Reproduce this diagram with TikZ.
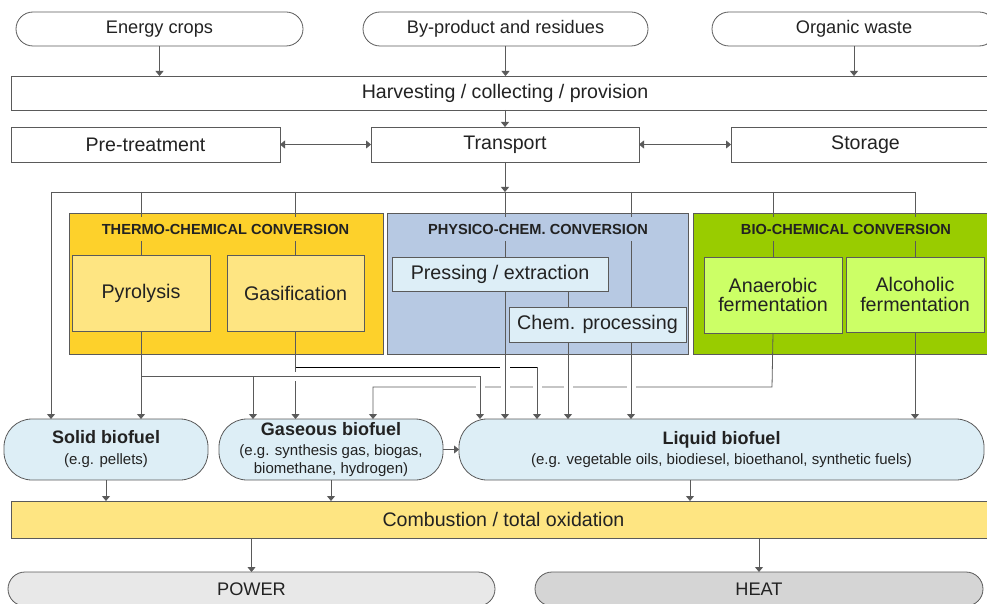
\documentclass[tikz,border=0pt]{standalone}
\usepackage{fontspec}
\setmainfont{Liberation Sans}
\usetikzlibrary{arrows.meta,calc}
\definecolor{lncol}{HTML}{5A5A5A}
\definecolor{txt}{HTML}{222222}
\definecolor{thermoc}{HTML}{FDD12B}
\definecolor{physc}{HTML}{B7C9E3}
\definecolor{bioc}{HTML}{99CC00}
\definecolor{innery}{HTML}{FEE582}
\definecolor{innerb}{HTML}{DDEEF7}
\definecolor{innerg}{HTML}{CCFF66}
\definecolor{fuelc}{HTML}{DDEEF6}
\definecolor{combc}{HTML}{FEE582}
\definecolor{powc}{HTML}{E8E8E8}
\definecolor{heatc}{HTML}{D5D5D5}
\begin{document}
\begin{tikzpicture}[x=1pt,y=-1pt,
  box/.style={draw=lncol, line width=0.8pt, inner sep=0pt, outer sep=0pt, text=txt, align=center},
  conn/.style={draw=lncol, line width=0.8pt},
  arr/.style={conn, -{Triangle[length=5pt,width=8pt]}},
  darr/.style={conn, {Triangle[length=5pt,width=8pt]}-{Triangle[length=5pt,width=8pt]}},
  ftop/.style={font=\fontsize{18.2}{21}\selectfont},
  fmid/.style={font=\fontsize{19.6}{21}\selectfont},
  finner/.style={font=\fontsize{19.7}{19.5}\selectfont},
  ffuel/.style={font=\fontsize{15}{18}\selectfont},
  ftitle/.style={font=\fontsize{14.6}{16}\selectfont\bfseries, text=txt, inner xsep=3pt, inner ysep=7pt},
  ]
\useasboundingbox (0,0) rectangle (987,604);
\clip (0,0) rectangle (987,604);
% routing coordinates
\coordinate (dl) at (51,192);
\coordinate (dr) at (915,192);
\coordinate (py1) at (141,376);
\coordinate (g367) at (295.5,367);
\coordinate (h387) at (772,387);
\coordinate (q253) at (253,0);
\coordinate (q373) at (373,0);
\coordinate (q480) at (480,0);
\coordinate (q537) at (537,0);
\coordinate (c568) at (568,0);
\coordinate (c631) at (631,0);
\coordinate (q690) at (690,0);
% top row
\node[box, ftop, minimum width=287, minimum height=34, rounded corners=17] (ec) at (159.5,29) {Energy crops};
\node[box, ftop, minimum width=285, minimum height=34, rounded corners=17] (bp) at (505.5,29) {By-product and residues};
\node[box, ftop, minimum width=284, minimum height=34, rounded corners=17] (ow) at (854,29) {Organic waste};
\node[box, fmid, minimum width=988, minimum height=34] (harv) at (505,93) {Harvesting / collecting / provision};
\node[box, fmid, minimum width=269, minimum height=35] (pre) at (145.5,144.5) {Pre-treatment};
\node[box, fmid, minimum width=268, minimum height=35] (trans) at (505,144.5) {Transport};
\node[box, fmid, minimum width=269, minimum height=35] (stor) at (865.5,144.5) {Storage};
% conversion groups
\node[box, fill=thermoc, minimum width=314, minimum height=141] (thermo) at (226,283.5) {};
\node[box, fill=physc, minimum width=301, minimum height=141] (phys) at (537.5,283.5) {};
\node[box, fill=bioc, minimum width=306, minimum height=141] (bio) at (846,283.5) {};
\node[box, finner, fill=innery, minimum width=138, minimum height=76] (pyro) at (141,293) {Pyrolysis};
\node[box, finner, fill=innery, minimum width=137, minimum height=76] (gasi) at (295.5,293) {Gasification};
\node[box, finner, fill=innerb, minimum width=216, minimum height=34] (press) at (500,274) {Pressing / extraction};
\node[box, finner, fill=innerb, minimum width=177, minimum height=35] (chem) at (597.5,324.5) {Chem. processing};
\node[box, finner, fill=innerg, minimum width=138, minimum height=76] (anae) at (773,295) {Anaerobic\\fermentation};
\node[box, finner, fill=innerg, minimum width=138, minimum height=75] (alco) at (915,294.5) {Alcoholic\\fermentation};
% fuels
\node[box, ffuel, fill=fuelc, minimum width=204, minimum height=61, rounded corners=28] (solid) at (106,449.5)
  {{\fontsize{18}{18}\selectfont\bfseries Solid biofuel}\\[3pt](e.g. pellets)};
\node[box, ffuel, fill=fuelc, minimum width=224, minimum height=61, rounded corners=28] (gas) at (331,449.5)
  {{\fontsize{18}{18}\selectfont\bfseries Gaseous biofuel}\\[2pt](e.g. synthesis gas, biogas,\\biomethane, hydrogen)};
\node[box, ffuel, fill=fuelc, minimum width=525, minimum height=61, rounded corners=28] (liq) at (721.5,449.5)
  {{\fontsize{18}{18}\selectfont\bfseries Liquid biofuel}\\[2pt](e.g. vegetable oils, biodiesel, bioethanol, synthetic fuels)};
\node[box, fmid, fill=combc, minimum width=985, minimum height=37] (comb) at (503.5,519.5) {Combustion / total oxidation};
\node[box, ftop, fill=powc, minimum width=487, minimum height=34, rounded corners=17] (pow) at (251.5,589) {POWER};
\node[box, ftop, fill=heatc, minimum width=448, minimum height=34, rounded corners=17] (heat) at (759,589) {HEAT};
% top connectors
\draw[arr] (ec.south) -- (ec.south |- harv.north);
\draw[arr] (bp.south) -- (bp.south |- harv.north);
\draw[arr] (ow.south) -- (ow.south |- harv.north);
\draw[arr] (harv.south -| trans.north) -- (trans.north);
\draw[darr] (pre.east) -- (trans.west);
\draw[darr] (trans.east) -- (stor.west);
\draw[arr] (trans.south) -- (trans.south |- dl);
% distribution
\draw[conn] (dl) -- (dr);
\draw[arr] (dl) -- (dl |- solid.north);
\draw[conn] (pyro.north |- dl) -- (pyro.north);
\draw[conn] (gasi.north |- dl) -- (gasi.north);
\draw[conn] (trans.south |- dl) -- (trans.south |- press.north);
\draw[conn] (c631 |- dl) -- (c631 |- chem.north);
\draw[conn] (anae.north |- dl) -- (anae.north);
\draw[conn] (dr) -- (alco.north);
\draw[conn] (c568 |- press.south) -- (c568 |- chem.north);
% outputs
\draw[arr] (gasi.south) -- (gasi.south |- gas.north);
\draw[arr] (anae.south) -- (h387) -- (q373 |- h387) -- (q373 |- gas.north);
\draw[draw=black, line width=0.8pt] (gasi.south |- g367) -- (q537 |- g367);
% bridge gaps
\fill[white] (291,372) rectangle (300,381);
\foreach \xx in {480,505,537,568,631} { \fill[white] (\xx-4.5,384) rectangle (\xx+4.5,390); }
\fill[white] (500,364) rectangle (510,370);
\draw[arr] (pyro.south) -- (pyro.south |- solid.north);
\draw[arr] (pyro.south |- py1) -- (q480 |- py1) -- (q480 |- liq.north);
\draw[arr] (q253 |- py1) -- (q253 |- gas.north);
\draw[arr] (q537 |- g367) -- (q537 |- liq.north);
\draw[arr] (trans.south |- press.south) -- (trans.south |- liq.north);
\draw[arr] (c568 |- chem.south) -- (c568 |- liq.north);
\draw[arr] (c631 |- chem.south) -- (c631 |- liq.north);
\draw[arr] (alco.south) -- (alco.south |- liq.north);
\draw[arr] (gas.east) -- (liq.west);
\draw[arr] (solid.south) -- (solid.south |- comb.north);
\draw[arr] (gas.south) -- (gas.south |- comb.north);
\draw[arr] (q690 |- liq.south) -- (q690 |- comb.north);
\draw[arr] (comb.south -| pow.north) -- (pow.north);
\draw[arr] (comb.south -| heat.north) -- (heat.north);
% titles
\node[ftitle, fill=thermoc] (tth) at (225.5,229) {THERMO-CHEMICAL CONVERSION};
\node[ftitle, fill=physc] (tph) at (538,229) {PHYSICO-CHEM. CONVERSION};
\node[ftitle, fill=bioc] (tbi) at (846,229) {BIO-CHEMICAL CONVERSION};
\end{tikzpicture}
\end{document}
